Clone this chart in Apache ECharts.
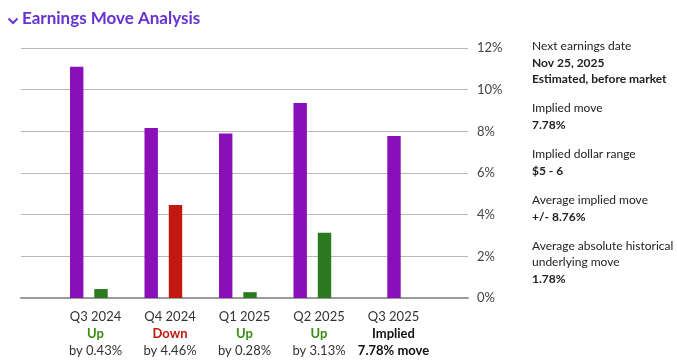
<!DOCTYPE html>
<html>
<head>
<meta charset="utf-8">
<script src="https://cdn.jsdelivr.net/npm/echarts@6/dist/echarts.min.js"></script>
<style>
html,body{margin:0;padding:0;background:#fff;}
#chart{width:677px;height:363px;}
</style>
</head>
<body>
<div id="chart"></div>
<script>
const categories = ['Q3 2024', 'Q4 2024', 'Q1 2025', 'Q2 2025', 'Q3 2025'];
const impliedMove = [11.1, 8.16, 7.9, 9.36, 7.78];
const actualMove = [0.43, 4.46, 0.28, 3.13, null];
const direction = ['Up', 'Down', 'Up', 'Up', 'Implied'];
const moveText = ['by 0.43%', 'by 4.46%', 'by 0.28%', 'by 3.13%', '7.78% move'];
const yTicks = [0, 2, 4, 6, 8, 10, 12];
const infoLines = [
  ['Next earnings date', false],
  ['Nov 25, 2025', true],
  ['Estimated, before market', true],
  ['Implied move', false],
  ['7.78%', true],
  ['Implied dollar range', false],
  ['$5 - 6', true],
  ['Average implied move', false],
  ['+/- 8.76%', true],
  ['Average absolute historical', false],
  ['underlying move', false],
  ['1.78%', true]
];
const infoY = [47, 64, 80, 109, 126, 155, 172, 201, 218, 247, 263, 280];

const FONT = 'Lato, "Liberation Sans", sans-serif';
const PURPLE = '#8a0fb9';
const GREEN = '#2b7a1f';
const RED = '#c1190f';
const BAR_W = 13.4;

const chart = echarts.init(document.getElementById('chart'), null, {renderer: 'canvas'});

function barItem(offset, color) {
  return function (params, api) {
    const x = api.value(0), v = api.value(1);
    const top = api.coord([x, v]);
    const base = api.coord([x, 0]);
    const off = typeof offset === 'function' ? offset(params.dataIndex) : offset;
    return {
      type: 'rect',
      shape: {x: top[0] + off - BAR_W / 2, y: top[1], width: BAR_W, height: base[1] - top[1]},
      style: {fill: typeof color === 'function' ? color(params.dataIndex) : color}
    };
  };
}

const graphics = [
  {
    type: 'polyline', left: 6, top: 16,
    shape: {points: [[0, 0], [4.5, 4.5], [9, 0]]},
    style: {stroke: '#6a34d6', lineWidth: 2, fill: null}
  },
  {
    type: 'text', left: 22, top: 10,
    style: {text: 'Earnings Move Analysis', font: 'bold 17px ' + FONT, fill: '#6633d1'}
  }
];
infoLines.forEach((l, i) => {
  graphics.push({
    type: 'text', left: 532, top: infoY[i] - 7,
    style: {text: l[0], font: (l[1] ? 'bold ' : 'normal ') + '12px ' + FONT, fill: '#222'}
  });
});

const option = {
  animation: false,
  backgroundColor: '#fff',
  grid: {left: 21, right: 209, top: 48, bottom: 65, containLabel: false},
  xAxis: {
    type: 'value', min: -1, max: 5, interval: 1,
    splitLine: {show: false},
    axisTick: {show: false},
    axisLine: {show: true, lineStyle: {color: '#9a9a9a', width: 2}},
    axisLabel: {
      margin: 10,
      verticalAlign: 'top',
      showMinLabel: false, showMaxLabel: false,
      fontFamily: FONT, fontSize: 13, color: '#333', lineHeight: 17,
      formatter: function (val) {
        const i = Math.round(val);
        if (i < 0 || i >= categories.length) return '';
        const d = direction[i];
        const st = d === 'Up' ? 'up' : d === 'Down' ? 'down' : 'imp';
        const mt = d === 'Implied' ? 'impm' : 'n';
        return categories[i] + '\n{' + st + '|' + d + '}\n{' + mt + '|' + moveText[i] + '}';
      },
      rich: {
        up: {color: '#3a8c12', fontWeight: 'bold', fontFamily: FONT, fontSize: 13, lineHeight: 17},
        down: {color: '#c1190f', fontWeight: 'bold', fontFamily: FONT, fontSize: 13, lineHeight: 17},
        imp: {color: '#111', fontWeight: 'bold', fontFamily: FONT, fontSize: 13, lineHeight: 17},
        n: {color: '#333', fontFamily: FONT, fontSize: 13, lineHeight: 17},
        impm: {color: '#111', fontWeight: 'bold', fontFamily: FONT, fontSize: 13, lineHeight: 17}
      }
    }
  },
  yAxis: {
    type: 'value', position: 'right', min: yTicks[0], max: yTicks[yTicks.length - 1], interval: 2,
    axisLine: {show: false}, axisTick: {show: false},
    splitLine: {lineStyle: {color: '#b8b8b8', width: 1}},
    axisLabel: {margin: 9, fontFamily: FONT, fontSize: 13, color: '#444', formatter: '{value}%'}
  },
  graphic: graphics,
  series: [
    {
      type: 'custom',
      renderItem: barItem(function (i) { return actualMove[i] == null ? 0.5 : -18.8; }, PURPLE),
      data: impliedMove.map((v, i) => [i, v]),
      encode: {x: 0, y: 1}
    },
    {
      type: 'custom',
      renderItem: barItem(5.5, function (i) { return direction[i] === 'Down' ? RED : GREEN; }),
      data: actualMove.map((v, i) => v == null ? null : [i, v]).filter(d => d),
      encode: {x: 0, y: 1}
    }
  ]
};
chart.setOption(option);
</script>
</body>
</html>
